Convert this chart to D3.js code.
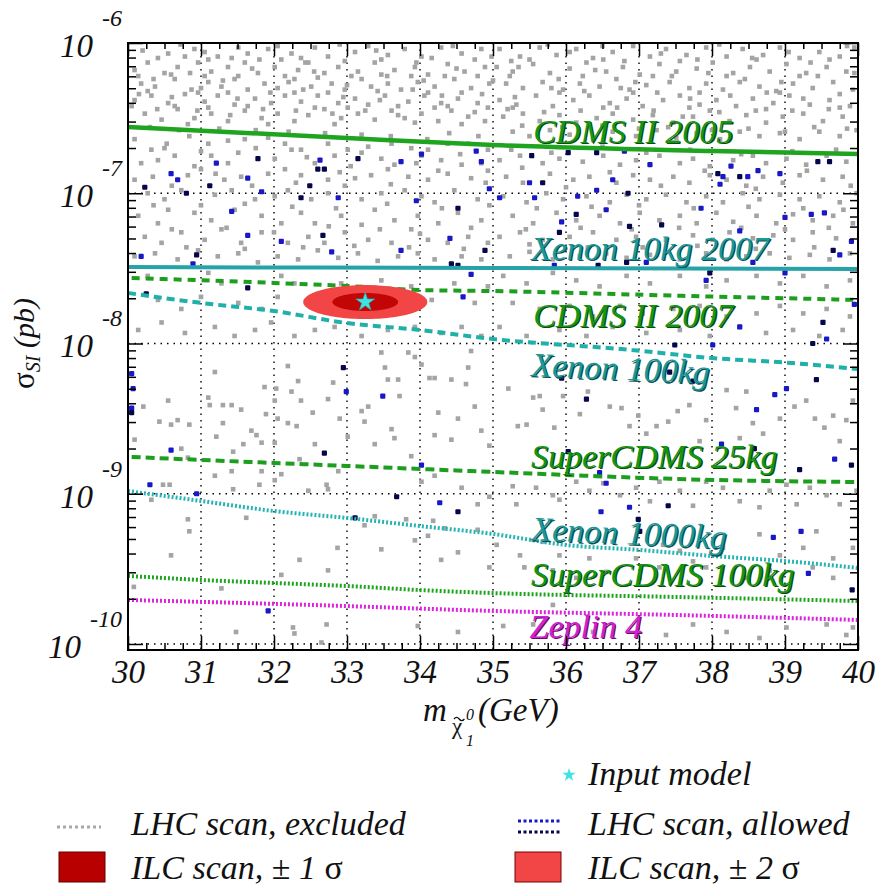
<!DOCTYPE html>
<html>
<head>
<meta charset="utf-8">
<script src="https://cdn.jsdelivr.net/npm/d3@7/dist/d3.min.js"></script>
<style>
html,body{margin:0;padding:0;background:#fff;}
svg{display:block;}
text{font-family:"Liberation Serif","Times New Roman",Times,serif;}
</style>
</head>
<body>
<svg id="chart" width="879" height="885"></svg>
<script>
// ---------------- DATA ----------------
const xTickValues = [30,31,32,33,34,35,36,37,38,39,40];
const yTickExponents = [-6,-7,-8,-9,-10];

// limit curves: neutralino mass (GeV) and log10(sigma_SI / pb)
const cdms2005Mass = [30,33,35,38,40];
const cdms2005Log  = [-6.559,-6.632,-6.679,-6.719,-6.739];
const xenon10Mass  = [30,35,40];
const xenon10Log   = [-7.491,-7.498,-7.504];
const cdms2007Mass = [30.05,32,33,34,35,37.7,40];
const cdms2007Log  = [-7.564,-7.597,-7.617,-7.644,-7.651,-7.684,-7.710];
const xenon100Mass = [30,31,32,33,34,35,36.9,38,39.1,40];
const xenon100Log  = [-7.664,-7.730,-7.784,-7.864,-7.910,-7.970,-8.043,-8.097,-8.130,-8.170];
const scdms25Mass  = [30.05,31,32,33,34,35,38,40];
const scdms25Log   = [-8.755,-8.775,-8.795,-8.815,-8.835,-8.855,-8.908,-8.922];
const xenon1000Mass= [30,31,32,33,34,35,36,37,38,39,40];
const xenon1000Log = [-8.982,-9.048,-9.115,-9.161,-9.215,-9.268,-9.341,-9.374,-9.414,-9.448,-9.494];
const scdms100Mass = [30,31,32,33,34,35,37.5,40];
const scdms100Log  = [-9.547,-9.574,-9.594,-9.614,-9.641,-9.661,-9.687,-9.714];
const zeplinMass   = [30,32.5,35,37.5,40];
const zeplinLog    = [-9.707,-9.740,-9.780,-9.807,-9.840];

// ILC fit: centre and half-widths (mass GeV, log10 sigma)
const inputModel = [33.25,-7.724];
const ilc2Sigma  = [0.85,0.113];
const ilc1Sigma  = [0.45,0.060];

// LHC scan points excluded (grey): [mass, log10 sigma]
const lhcExcluded = [
[30.55,-6.07],[30.91,-6.04],[31.23,-6.09],[31.51,-6.03],[31.64,-6.07],[31.92,-6.04],[32.24,-6.07],[32.56,-6.03],[32.74,-6.09],[33.11,-6.06],[33.29,-6.02],[33.56,-6.08],[33.79,-6.04],[34.02,-6.09],[34.29,-6.03],[34.57,-6.07],[34.84,-6.04],
[30.09,-6.18],[30.27,-6.13],[30.50,-6.20],[30.68,-6.16],[30.96,-6.13],[31.14,-6.19],[31.37,-6.16],[31.60,-6.13],[31.78,-6.20],[32.01,-6.16],[32.33,-6.18],[32.47,-6.13],[32.69,-6.20],[32.88,-6.16],[33.15,-6.19],[33.38,-6.13],[33.65,-6.18],[33.93,-6.16],[34.11,-6.21],[34.38,-6.14],[34.61,-6.19],[34.89,-6.16],
[30.18,-6.27],[30.37,-6.29],[30.64,-6.24],[30.87,-6.31],[31.10,-6.26],[31.28,-6.29],[31.46,-6.24],[31.64,-6.31],[31.87,-6.27],[32.05,-6.30],[32.28,-6.24],[32.51,-6.29],[32.79,-6.27],[32.97,-6.31],[33.20,-6.24],[33.33,-6.29],[33.56,-6.27],[33.74,-6.31],[33.97,-6.26],[34.20,-6.29],[34.47,-6.24],[34.70,-6.30],[34.95,-6.27],
[30.09,-6.38],[30.32,-6.35],[30.55,-6.40],[30.78,-6.34],[31.05,-6.39],[31.23,-6.35],[31.46,-6.41],[31.74,-6.37],[31.96,-6.40],[32.15,-6.35],[32.37,-6.39],[32.60,-6.35],[32.88,-6.40],[33.11,-6.37],[33.29,-6.41],[33.52,-6.35],[33.84,-6.39],[34.06,-6.35],[34.29,-6.40],[34.52,-6.37],[34.79,-6.40],
[30.23,-6.47],[30.46,-6.51],[30.68,-6.44],[30.91,-6.50],[31.14,-6.47],[31.37,-6.52],[31.60,-6.45],[31.83,-6.50],[32.05,-6.47],[32.28,-6.52],[32.47,-6.48],[32.69,-6.44],[32.92,-6.50],[33.15,-6.47],[33.38,-6.51],[33.61,-6.45],[33.79,-6.50],[34.02,-6.47],[34.25,-6.52],[34.43,-6.45],[34.66,-6.49],[34.89,-6.52],
[30.41,-6.10],[30.78,-6.09],[31.10,-6.11],[31.42,-6.10],[32.10,-6.11],[32.37,-6.10],[32.97,-6.12],[33.47,-6.11],[34.16,-6.10],[34.75,-6.11],[34.98,-6.09],
[30.14,-6.22],[30.59,-6.21],[31.05,-6.22],[31.51,-6.22],[32.15,-6.22],[32.60,-6.23],[33.06,-6.22],[33.47,-6.21],[33.88,-6.22],[34.34,-6.22],[34.79,-6.22],
[30.27,-6.32],[30.96,-6.33],[31.37,-6.33],[32.28,-6.33],[32.74,-6.33],[33.42,-6.32],[34.11,-6.33],[34.57,-6.33],
[30.05,-6.42],[30.64,-6.42],[31.10,-6.43],[31.64,-6.42],[32.56,-6.43],[33.01,-6.43],[33.70,-6.42],[34.38,-6.42],[34.93,-6.43],
[30.82,-6.54],[31.92,-6.54],[32.83,-6.54],[33.93,-6.53],[34.57,-6.54],
[35.09,-6.04],[35.37,-6.09],[35.64,-6.03],[35.87,-6.08],[36.14,-6.04],[36.37,-6.10],[36.64,-6.06],[36.92,-6.02],[37.15,-6.09],[37.37,-6.04],[37.65,-6.08],[37.92,-6.03],[38.20,-6.09],[38.42,-6.04],[38.70,-6.08],[38.93,-6.03],[39.20,-6.10],[39.47,-6.06],[39.75,-6.09],[39.95,-6.03],
[35.05,-6.16],[35.27,-6.19],[35.55,-6.14],[35.78,-6.20],[36.05,-6.17],[36.28,-6.13],[36.55,-6.19],[36.78,-6.16],[37.01,-6.21],[37.28,-6.14],[37.51,-6.19],[37.79,-6.17],[38.01,-6.13],[38.29,-6.20],[38.52,-6.16],[38.79,-6.19],[39.02,-6.14],[39.29,-6.20],[39.57,-6.16],[39.84,-6.19],
[35.18,-6.27],[35.41,-6.30],[35.68,-6.26],[35.96,-6.31],[36.19,-6.27],[36.46,-6.29],[36.69,-6.24],[36.87,-6.31],[37.10,-6.28],[37.42,-6.26],[37.69,-6.30],[37.92,-6.27],[38.15,-6.31],[38.38,-6.26],[38.65,-6.29],[38.88,-6.32],[39.11,-6.27],[39.38,-6.30],[39.66,-6.26],[39.93,-6.31],
[35.09,-6.38],[35.32,-6.41],[35.59,-6.35],[35.82,-6.42],[36.10,-6.38],[36.32,-6.35],[36.60,-6.40],[36.83,-6.37],[37.05,-6.42],[37.33,-6.38],[37.56,-6.35],[37.83,-6.41],[38.06,-6.38],[38.33,-6.42],[38.56,-6.37],[38.84,-6.40],[39.06,-6.35],[39.34,-6.41],[39.61,-6.38],[39.89,-6.42],
[35.14,-6.49],[35.41,-6.47],[35.64,-6.52],[35.91,-6.48],[36.14,-6.53],[36.42,-6.50],[36.64,-6.47],[36.92,-6.51],[37.19,-6.48],[37.47,-6.53],[37.74,-6.49],[37.97,-6.45],[38.24,-6.52],[38.47,-6.48],[38.74,-6.53],[38.97,-6.49],[39.25,-6.47],[39.52,-6.52],[39.79,-6.49],
[35.27,-6.59],[35.50,-6.62],[35.78,-6.58],[36.05,-6.61],[36.37,-6.64],[36.64,-6.59],[36.96,-6.62],[37.24,-6.58],[37.51,-6.63],[37.79,-6.60],[38.11,-6.64],[38.38,-6.59],[38.65,-6.62],[38.93,-6.60],[39.20,-6.64],[39.47,-6.59],[39.75,-6.62],[39.98,-6.58],
[35.50,-6.11],[36.51,-6.11],[37.56,-6.12],[38.61,-6.11],[39.61,-6.11],[35.23,-6.22],[36.23,-6.22],[37.19,-6.22],[38.20,-6.22],[39.20,-6.22],[35.91,-6.33],[36.92,-6.33],[37.83,-6.33],[38.93,-6.33],[35.27,-6.43],[36.51,-6.43],[37.69,-6.43],[38.74,-6.44],[39.75,-6.43],
[30.20,-6.05],[30.72,-6.01],[31.05,-6.06],[31.80,-6.11],[32.05,-6.02],[32.43,-6.13],[32.90,-6.01],[33.40,-6.05],[33.95,-6.13],[34.45,-6.02],[35.25,-6.12],[35.75,-6.01],[36.05,-6.06],[36.50,-6.02],[36.80,-6.12],[37.30,-6.07],[37.80,-6.11],[38.10,-6.01],[38.55,-6.10],[39.05,-6.06],[39.35,-6.13],[39.85,-6.02],
[30.35,-6.24],[30.85,-6.20],[31.30,-6.25],[31.70,-6.17],[32.20,-6.26],[32.55,-6.19],[33.00,-6.28],[33.55,-6.22],[34.05,-6.25],[34.50,-6.17],[35.00,-6.25],[35.35,-6.16],[35.90,-6.24],[36.40,-6.18],[36.95,-6.26],[37.45,-6.22],[37.95,-6.20],[38.45,-6.24],[38.95,-6.26],[39.45,-6.22],[39.95,-6.20],
[30.15,-6.34],[30.60,-6.36],[31.00,-6.30],[31.50,-6.37],[31.95,-6.33],[32.40,-6.31],[32.95,-6.36],[33.45,-6.38],[33.90,-6.31],[34.30,-6.35],[34.85,-6.34],[35.30,-6.36],[35.80,-6.30],[36.25,-6.32],[36.75,-6.30],[37.25,-6.33],[37.70,-6.37],[38.25,-6.35],[38.75,-6.33],[39.25,-6.37],[39.75,-6.34],
[30.40,-6.44],[30.95,-6.45],[31.40,-6.48],[31.85,-6.44],[32.30,-6.45],[32.80,-6.47],[33.25,-6.45],[33.70,-6.48],[34.20,-6.43],[34.75,-6.46],[35.20,-6.44],[35.70,-6.46],[36.20,-6.45],[36.70,-6.43],[37.20,-6.45],[37.60,-6.49],[38.10,-6.46],[38.60,-6.45],[39.10,-6.45],[39.60,-6.44],
[30.30,-6.56],[30.70,-6.58],[31.25,-6.57],[31.75,-6.58],[32.20,-6.59],[32.70,-6.60],[33.20,-6.61],[33.60,-6.62],[34.10,-6.64],[34.40,-6.60],[34.80,-6.62],[35.40,-6.55],[35.95,-6.56],[36.50,-6.55],[37.00,-6.57],[37.40,-6.56],[38.00,-6.58],[38.50,-6.57],[39.00,-6.59],[39.40,-6.56],[39.85,-6.57],
[30.09,-6.64],[30.32,-6.71],[30.53,-6.67],[30.84,-6.62],[31.10,-6.67],[31.37,-6.65],[31.60,-6.64],[31.92,-6.63],[32.15,-6.67],[32.37,-6.71],[32.74,-6.67],[33.01,-6.71],[33.29,-6.69],[33.61,-6.67],[33.88,-6.70],[34.11,-6.71],[34.38,-6.67],[34.66,-6.67],[34.93,-6.71],
[30.18,-6.80],[30.41,-6.78],[30.64,-6.75],[30.91,-6.82],[31.14,-6.75],[31.37,-6.80],[31.51,-6.73],[32.01,-6.77],[32.24,-6.71],[32.56,-6.80],[32.83,-6.75],[33.20,-6.73],[33.47,-6.77],[33.65,-6.81],[34.02,-6.75],[34.29,-6.78],[34.57,-6.81],[34.84,-6.80],
[30.09,-6.91],[30.34,-6.89],[30.82,-6.88],[31.00,-6.84],[31.32,-6.91],[31.55,-6.89],[31.92,-6.87],[32.15,-6.84],[32.37,-6.88],[32.74,-6.91],[33.11,-6.90],[33.33,-6.88],[33.56,-6.84],[33.84,-6.89],[34.11,-6.91],[34.38,-6.87],[34.70,-6.90],[34.93,-6.85],
[30.27,-7.00],[30.50,-7.04],[30.73,-6.98],[31.19,-7.01],[31.42,-6.98],[31.74,-7.04],[32.01,-7.02],[32.19,-6.98],[32.51,-7.04],[32.74,-7.00],[32.97,-6.95],[33.20,-7.04],[33.47,-7.00],[33.79,-6.98],[34.02,-7.02],[34.20,-7.06],[34.47,-6.98],[34.79,-7.04],
[30.14,-7.15],[30.41,-7.20],[30.55,-7.11],[30.91,-7.13],[31.14,-7.18],[31.46,-7.11],[31.83,-7.15],[32.10,-7.20],[32.37,-7.13],[32.56,-7.20],[32.92,-7.15],[33.20,-7.21],[33.38,-7.11],[33.65,-7.18],[33.97,-7.15],[34.25,-7.20],[34.52,-7.13],[34.84,-7.18],
[30.23,-7.29],[30.46,-7.33],[30.73,-7.26],[31.05,-7.31],[31.28,-7.24],[31.55,-7.33],[31.83,-7.26],[32.19,-7.33],[32.47,-7.29],[32.69,-7.33],[32.97,-7.26],[33.29,-7.31],[33.61,-7.33],[33.88,-7.24],[34.11,-7.31],[34.38,-7.33],[34.66,-7.29],[34.93,-7.33],
[30.09,-7.42],[30.37,-7.40],[30.68,-7.44],[30.96,-7.38],[31.23,-7.42],[31.51,-7.40],[31.78,-7.46],[32.05,-7.42],[32.33,-7.44],[32.60,-7.38],[32.88,-7.43],[33.15,-7.40],[33.42,-7.45],[33.70,-7.42],[33.97,-7.40],[34.20,-7.44],[34.57,-7.42],[34.84,-7.44],
[30.50,-6.70],[31.00,-6.72],[31.75,-6.70],[32.45,-6.76],[33.05,-6.82],[33.95,-6.80],[34.55,-6.74],[35.25,-6.71],[35.80,-6.73],[36.50,-6.69],[37.10,-6.73],[37.70,-6.71],[38.40,-6.74],[39.10,-6.72],[39.70,-6.71],
[30.60,-6.95],[31.20,-6.87],[31.70,-6.95],[32.30,-6.93],[32.90,-6.86],[33.60,-6.94],[34.25,-6.85],[34.90,-6.93],[35.40,-6.83],[36.00,-6.96],[36.60,-6.86],[37.30,-6.95],[37.90,-6.85],[38.60,-6.97],[39.30,-6.85],[39.90,-6.95],
[30.35,-7.08],[31.00,-7.08],[31.60,-7.07],[32.25,-7.09],[32.85,-7.10],[33.55,-7.07],[34.30,-7.10],[34.95,-7.08],[35.60,-7.10],[36.35,-7.09],[37.00,-7.08],[37.75,-7.10],[38.50,-7.09],[39.25,-7.10],[39.80,-7.11],
[30.60,-7.24],[31.35,-7.23],[32.00,-7.26],[32.75,-7.22],[33.45,-7.24],[34.00,-7.27],[34.70,-7.23],[35.45,-7.24],[36.20,-7.23],[36.90,-7.24],[37.55,-7.23],[38.40,-7.23],[39.00,-7.24],[39.60,-7.23],
[30.80,-7.36],[31.60,-7.37],[32.40,-7.36],[33.10,-7.35],[33.85,-7.36],[34.60,-7.37],[35.50,-7.34],[36.30,-7.36],[37.05,-7.36],[37.80,-7.35],[38.60,-7.37],[39.40,-7.36],
[30.41,-7.71],[30.73,-7.77],[31.00,-7.69],[31.28,-7.60],[31.51,-7.73],[31.83,-7.77],[32.05,-7.69],[32.28,-7.60],[32.56,-7.75],[32.83,-7.69],[33.11,-7.64],[33.47,-7.58],[33.88,-7.62],[34.16,-7.71],[34.47,-7.60],[34.75,-7.73],[34.93,-7.62],
[30.14,-7.91],[30.46,-7.86],[30.78,-7.93],[31.19,-7.89],[31.46,-7.95],[31.74,-7.91],[31.96,-7.86],[32.28,-7.95],[32.56,-7.91],[32.83,-7.89],[33.20,-7.95],[33.56,-7.91],[33.93,-7.89],[34.29,-7.93],[34.57,-7.89],[34.84,-7.95],
[30.27,-7.55],[31.10,-7.53],[32.10,-7.55],[32.92,-7.60],
[35.09,-6.78],[35.37,-6.75],[35.68,-6.80],[35.91,-6.77],[36.23,-6.79],[36.51,-6.75],[36.74,-6.81],[36.96,-6.78],[37.28,-6.75],[37.56,-6.80],[37.74,-6.77],[37.97,-6.82],[38.29,-6.78],[38.56,-6.75],[38.74,-6.80],[39.02,-6.77],[39.29,-6.81],[39.57,-6.75],[39.84,-6.79],
[35.18,-6.89],[35.41,-6.93],[35.78,-6.87],[36.10,-6.91],[36.32,-6.89],[36.69,-6.93],[36.92,-6.88],[37.15,-6.91],[37.47,-6.89],[37.69,-6.93],[37.97,-6.88],[38.20,-6.91],[38.47,-6.95],[38.70,-6.89],[38.97,-6.93],[39.20,-6.88],[39.52,-6.91],[39.79,-6.89],
[35.14,-7.02],[35.46,-7.06],[35.73,-7.00],[35.96,-7.04],[36.28,-7.02],[36.60,-7.06],[36.83,-7.01],[37.10,-7.04],[37.37,-7.01],[37.65,-7.06],[37.92,-7.02],[38.15,-7.06],[38.42,-7.00],[38.65,-7.04],[38.93,-7.01],[39.20,-7.04],[39.47,-7.02],[39.75,-7.06],[39.98,-7.00],
[35.27,-7.15],[35.55,-7.20],[35.87,-7.13],[36.14,-7.18],[36.46,-7.15],[36.74,-7.20],[37.01,-7.13],[37.28,-7.18],[37.56,-7.15],[37.79,-7.20],[38.06,-7.13],[38.29,-7.19],[38.61,-7.15],[38.88,-7.20],[39.11,-7.14],[39.38,-7.18],[39.66,-7.15],[39.93,-7.20],
[35.09,-7.29],[35.37,-7.26],[35.68,-7.31],[36.05,-7.29],[36.37,-7.26],[36.69,-7.31],[36.96,-7.29],[37.37,-7.31],[37.74,-7.28],[38.01,-7.31],[38.24,-7.26],[38.56,-7.30],[38.84,-7.28],[39.11,-7.31],[39.38,-7.26],[39.70,-7.30],
[35.23,-7.42],[35.50,-7.39],[35.82,-7.44],[36.19,-7.42],[36.55,-7.40],[36.83,-7.43],[37.15,-7.41],[37.56,-7.44],[37.92,-7.40],[38.20,-7.44],[38.47,-7.42],[38.79,-7.40],[39.06,-7.43],[39.34,-7.41],[39.61,-7.44],[39.89,-7.40],
[35.14,-7.55],[35.46,-7.60],[35.82,-7.53],[36.14,-7.58],[36.46,-7.62],[36.83,-7.55],[37.15,-7.60],[37.56,-7.55],[37.92,-7.62],[38.20,-7.58],[38.61,-7.55],[38.93,-7.60],[39.25,-7.55],[39.57,-7.62],[39.89,-7.58],
[35.27,-7.73],[35.64,-7.77],[36.05,-7.75],[36.37,-7.82],[36.74,-7.75],[37.05,-7.80],[37.47,-7.77],[37.83,-7.75],[38.20,-7.82],[38.61,-7.80],[38.93,-7.75],[39.25,-7.80],[39.57,-7.77],[39.89,-7.82],
[35.09,-7.89],[35.46,-7.95],[35.91,-7.91],[36.28,-7.95],[36.64,-7.89],[37.10,-7.93],[37.56,-7.91],[37.97,-7.95],[38.38,-7.89],[38.74,-7.93],[39.11,-7.91],[39.47,-7.95],[39.79,-7.91],
[30.09,-8.64],[30.21,-8.42],[30.55,-8.38],[30.43,-8.52],[30.59,-8.54],[30.68,-8.51],[30.84,-8.54],[31.10,-8.36],[31.21,-8.62],[31.30,-8.53],[31.42,-8.41],[31.55,-8.44],[31.58,-8.67],[31.69,-8.58],[31.76,-8.61],[31.83,-8.66],[31.89,-8.47],[32.01,-8.38],[32.03,-8.30],[32.01,-8.66],[32.05,-8.50],[32.19,-8.53],[32.31,-8.55],[32.24,-8.32],[32.33,-8.25],[32.37,-8.38],[32.53,-8.46],[32.56,-8.67],[32.74,-8.37],[32.81,-8.26],[32.90,-8.50],[33.01,-8.62],[33.20,-8.45],[33.24,-8.52],[33.29,-8.42],[33.38,-8.67],[33.52,-8.16],[33.56,-8.24],[33.61,-8.57],[33.65,-8.63],[33.70,-8.24],[33.72,-8.35],[33.93,-8.09],[34.02,-8.14],[34.13,-8.23],[34.20,-8.23],[34.25,-8.46],[34.20,-8.61],[34.43,-8.24],[34.43,-8.64],[34.52,-8.50],[34.63,-8.27],[34.66,-8.16],[34.75,-8.42],[34.84,-8.58],[34.95,-8.68],[34.70,-8.05],[33.84,-8.06],[33.47,-8.06],[32.19,-8.15],[31.87,-8.29],[31.19,-8.19],[31.12,-8.41],[31.30,-8.41],
[30.82,-8.76],[30.73,-8.70],[31.42,-8.85],[31.44,-8.97],[31.80,-8.94],[32.01,-8.91],[32.47,-8.98],[32.72,-8.94],[32.74,-8.97],[32.88,-8.85],[33.88,-8.75],[34.02,-8.92],[34.20,-8.88],[34.57,-8.96],[34.79,-9.07],[34.95,-9.02],[30.82,-9.17],[30.84,-9.25],[30.59,-9.41],[30.48,-8.94],[30.57,-8.94],[30.32,-9.04],[31.62,-9.16],[31.19,-8.88],[31.44,-8.72],[31.83,-8.85],[32.10,-8.87],[32.35,-8.77],[32.10,-9.54],[32.35,-9.44],[32.74,-9.51],[32.87,-9.36],[33.47,-9.37],[33.38,-9.15],[33.24,-9.21],[34.11,-9.28],[34.29,-9.44],[34.52,-9.39],[34.95,-9.49],[34.79,-9.24],[34.34,-9.23],[34.18,-9.18],[30.08,-9.62],[31.28,-9.63],[31.48,-9.92],[32.26,-9.89],[32.28,-9.93],[32.72,-9.87],[32.65,-9.99],[33.97,-9.88],[34.52,-9.92],[33.93,-9.31],[33.81,-9.17],
[35.21,-8.30],[35.34,-8.55],[35.46,-8.54],[35.55,-8.36],[35.64,-8.35],[35.68,-8.44],[35.84,-8.56],[35.96,-8.35],[36.19,-8.47],[36.30,-8.32],[36.60,-8.42],[36.76,-8.43],[36.87,-8.55],[36.99,-8.48],[37.10,-8.60],[37.24,-8.55],[37.40,-8.52],[37.53,-8.45],[37.69,-8.41],[37.83,-8.65],[37.92,-8.51],[38.20,-8.31],[38.33,-8.43],[38.38,-8.63],[38.47,-8.32],[38.56,-8.53],[38.70,-8.60],[38.93,-8.50],[39.13,-8.42],[39.29,-8.38],[39.41,-8.50],[39.54,-8.56],[39.66,-8.48],[39.75,-8.65],[39.84,-8.51],[39.93,-8.38],
[35.27,-8.95],[35.32,-9.07],[35.59,-8.96],[35.82,-9.01],[35.91,-9.04],[36.14,-8.92],[36.32,-8.98],[36.51,-8.93],[36.74,-9.01],[36.96,-8.96],[37.15,-9.05],[37.28,-8.92],[37.56,-8.98],[37.74,-9.08],[37.92,-8.92],[38.15,-8.96],[38.38,-9.05],[38.65,-9.09],[38.79,-8.98],[39.02,-8.94],[39.16,-9.07],[39.34,-8.96],[39.57,-9.01],[39.75,-9.07],[39.98,-8.98],
[35.05,-9.34],[35.37,-9.41],[35.68,-9.32],[35.91,-9.41],[36.32,-9.43],[36.64,-9.32],[36.96,-9.43],[37.33,-9.34],[37.56,-9.38],[37.74,-9.45],[38.15,-9.36],[38.65,-9.27],[38.93,-9.41],[39.25,-9.36],[39.43,-9.25],[39.66,-9.43],[39.93,-9.36],
[35.43,-9.49],[35.82,-9.51],[36.14,-9.56],[36.55,-9.52],[37.01,-9.56],[37.28,-9.49],[37.92,-9.49],[38.47,-9.56],[38.79,-9.51],[39.38,-9.49],[39.66,-9.56],
[35.14,-9.88],[35.55,-9.87],[35.82,-9.74],[36.37,-9.92],[37.37,-9.94],[37.74,-9.87],[38.20,-9.92],[38.65,-9.96],[39.02,-9.89],[39.57,-9.87],[39.84,-9.94],[39.93,-9.89]
];

// LHC scan points allowed (bright blue and dark blue markers)
const lhcAllowedBlue = [
[32.63,-6.78],[33.74,-6.79],[34.02,-6.74],[34.77,-6.72],[34.84,-6.79],[30.59,-6.87],[30.68,-6.91],[31.64,-6.90],[31.83,-6.99],[32.88,-7.03],[31.21,-6.80],[31.42,-7.12],[31.64,-7.28],[32.10,-7.32],[32.79,-7.39],[33.74,-7.38],[33.95,-7.05],[34.41,-7.30],[34.95,-6.97],[30.18,-7.42],[30.89,-7.47],[34.70,-7.54],[34.59,-7.69],
[36.80,-6.72],[37.15,-6.81],[38.26,-6.82],[38.15,-6.89],[38.49,-6.89],[38.63,-6.85],[38.93,-6.87],[35.09,-7.03],[35.50,-6.93],[35.57,-7.03],[36.16,-7.02],[36.42,-6.98],[36.64,-6.91],[36.55,-7.11],[35.94,-7.19],[37.85,-7.10],[38.11,-6.94],[38.38,-7.25],[39.00,-7.16],[39.36,-7.14],[39.54,-7.13],[39.91,-7.32],[39.75,-7.41],[35.84,-7.48],[37.10,-7.46],[37.92,-7.58],[38.56,-7.46],[39.00,-7.53],[38.01,-8.01],[39.57,-7.97],[39.95,-7.74],[38.38,-7.89],
[30.05,-8.20],[30.07,-8.30],[30.05,-8.43],[30.59,-8.71],[30.94,-9.00],[30.30,-8.94],[32.99,-8.32],[33.49,-8.35],[34.02,-8.81],[34.27,-9.06],[31.92,-9.78],
[38.61,-8.44],[38.86,-8.34],[39.02,-8.30],[39.68,-8.77],[38.13,-8.67],[36.46,-8.86],[36.55,-8.93],[36.87,-9.09],[36.48,-9.12],[38.84,-9.29],[39.22,-9.25],[39.32,-9.53]
];
const lhcAllowedNavy = [
[31.78,-6.77],[33.15,-6.77],[30.23,-6.96],[30.80,-7.00],[31.12,-6.95],[32.49,-6.95],[32.37,-7.03],[32.60,-6.84],[32.69,-6.84],[32.67,-7.28],[34.52,-7.10],[34.89,-7.38],[30.94,-7.41],[34.43,-7.47],[34.52,-7.48],[31.64,-7.63],[30.25,-7.67],
[35.53,-6.75],[36.03,-6.73],[36.42,-6.73],[38.08,-6.87],[38.38,-6.89],[39.45,-6.79],[39.61,-6.79],[35.68,-6.93],[36.85,-7.00],[36.14,-7.14],[36.87,-7.22],[37.31,-7.21],[39.66,-7.38],[35.91,-7.26],[36.83,-7.46],[37.97,-7.53],[36.44,-7.48],[37.49,-8.01],[39.52,-7.86],[39.38,-8.00],
[30.05,-8.46],[32.95,-8.16],[32.69,-8.73],[33.11,-9.16],[33.68,-9.02],[34.52,-9.12],
[35.94,-8.23],[36.28,-8.37],[37.42,-8.19],[37.74,-8.25],[39.43,-8.24],[39.91,-8.81],[39.20,-8.84],[38.58,-8.70],[36.03,-8.72],[37.40,-9.08],[36.99,-9.17],[37.01,-9.25],[39.92,-9.64]
];

// ---------------- CHART ----------------
const P = e => Math.pow(10, e);
const svg = d3.select("#chart");
const L = 128, R = 858, T = 43, B = 650;
const x = d3.scaleLinear().domain([30, 40]).range([L, R]);
const y = d3.scaleLog().domain([P(-10.04), P(-6)]).range([B, T]);

const limits = [
  {m:cdms2005Mass,  l:cdms2005Log,  color:"#1fa41f", w:4.5, dash:null},
  {m:xenon10Mass,   l:xenon10Log,   color:"#25a3a8", w:4,   dash:null},
  {m:cdms2007Mass,  l:cdms2007Log,  color:"#1e9e1e", w:4,   dash:"8,6"},
  {m:xenon100Mass,  l:xenon100Log,  color:"#1fb0aa", w:4,   dash:"8,5"},
  {m:scdms25Mass,   l:scdms25Log,   color:"#1e9e1e", w:4,   dash:"9,5"},
  {m:xenon1000Mass, l:xenon1000Log, color:"#25b4b4", w:4,   dash:"2,2"},
  {m:scdms100Mass,  l:scdms100Log,  color:"#1ea51e", w:4,   dash:"2,2"},
  {m:zeplinMass,    l:zeplinLog,    color:"#dd22dd", w:4,   dash:"2,2"}
];

// grid
const gGrid = svg.append("g");
xTickValues.slice(1, -1).forEach(v => {
  gGrid.append("line").attr("x1", x(v)).attr("x2", x(v)).attr("y1", T).attr("y2", B)
    .attr("stroke", "#000").attr("stroke-width", 1.4).attr("stroke-dasharray", "1.5,5");
});
yTickExponents.slice(1).forEach(e => {
  gGrid.append("line").attr("x1", L).attr("x2", R).attr("y1", y(P(e))).attr("y2", y(P(e)))
    .attr("stroke", "#000").attr("stroke-width", 1.4).attr("stroke-dasharray", "1.5,5");
});

// scatter points
const gPts = svg.append("g");
gPts.selectAll("rect.ex").data(lhcExcluded).join("rect").attr("class", "ex")
  .attr("x", d => x(d[0]) - 2.3).attr("y", d => y(P(d[1])) - 2.3)
  .attr("width", 4.6).attr("height", 4.6).attr("fill", "#a4a4a4");
gPts.selectAll("rect.bl").data(lhcAllowedBlue).join("rect").attr("class", "bl")
  .attr("x", d => x(d[0]) - 2.6).attr("y", d => y(P(d[1])) - 2.6)
  .attr("width", 5.2).attr("height", 5.2).attr("rx", 1).attr("fill", "#1818c8");
gPts.selectAll("rect.nv").data(lhcAllowedNavy).join("rect").attr("class", "nv")
  .attr("x", d => x(d[0]) - 2.6).attr("y", d => y(P(d[1])) - 2.6)
  .attr("width", 5.2).attr("height", 5.2).attr("rx", 1).attr("fill", "#06064a");

// limit curves
const lineGen = d3.line().x(d => x(d[0])).y(d => y(P(d[1]))).curve(d3.curveMonotoneX);
const gLines = svg.append("g");
limits.forEach(c => {
  gLines.append("path").datum(c.m.map((m, i) => [m, c.l[i]]))
    .attr("d", lineGen).attr("fill", "none").attr("stroke", c.color)
    .attr("stroke-width", c.w).attr("stroke-dasharray", c.dash);
});

// ILC ellipses
const ell = (c, r) => d3.range(0, 2 * Math.PI, Math.PI / 60).map(t => [c[0] + r[0] * Math.cos(t), c[1] + r[1] * Math.sin(t)]);
const closed = d3.line().x(d => x(d[0])).y(d => y(P(d[1]))).curve(d3.curveLinearClosed);
svg.append("path").attr("d", closed(ell(inputModel, ilc2Sigma))).attr("fill", "#f24545");
svg.append("path").attr("d", closed(ell(inputModel, ilc1Sigma))).attr("fill", "#c20606");
svg.append("path").attr("d", d3.symbol(d3.symbolStar, 110)())
  .attr("transform", `translate(${x(inputModel[0])},${y(P(inputModel[1]))})`)
  .attr("fill", "#3fe3e3").attr("stroke", "#22aaaa").attr("stroke-width", 0.6);

// curve labels (layout anchors in data coords)
const labelLayout = [
  {t:"CDMS II 2005",    at:[35.55,-6.666], c:"#159515", d:"#0a4d0a", r:0},
  {t:"Xenon 10kg 2007", at:[35.52,-7.445], c:"#1a9898", d:"#0b4f52", r:0},
  {t:"CDMS II 2007",    at:[35.55,-7.890], c:"#159515", d:"#0a4d0a", r:0},
  {t:"Xenon 100kg",     at:[35.52,-8.216], c:"#1a9898", d:"#0b4f52", r:2.5},
  {t:"SuperCDMS 25kg",  at:[35.52,-8.829], c:"#159515", d:"#0a4d0a", r:0},
  {t:"Xenon 1000kg",    at:[35.52,-9.308], c:"#1a9898", d:"#0b4f52", r:2.5},
  {t:"SuperCDMS 100kg", at:[35.52,-9.614], c:"#159515", d:"#0a4d0a", r:0},
  {t:"Zeplin 4",        at:[35.50,-9.960], c:"#cf23cf", d:"#6a0b6a", r:0}
];
const gLab = svg.append("g");
labelLayout.forEach(lb => {
  const g = gLab.append("g").attr("transform", `translate(${x(lb.at[0])},${y(P(lb.at[1]))}) rotate(${lb.r})`);
  g.append("text").attr("x", 1.3).attr("y", 1.3).attr("font-size", 34).attr("font-style", "italic")
    .attr("fill", lb.d).text(lb.t);
  g.append("text").attr("font-size", 34).attr("font-style", "italic").attr("fill", lb.c).text(lb.t);
});

// axes (ticks inward)
const xMinor = d3.range(30, 40.001, 0.25).filter(v => Math.abs(v - Math.round(v)) > 1e-6);
const yMajor = yTickExponents.map(P);
const yMinor = [];
[-10, -9, -8, -7].forEach(e => d3.range(2, 10).forEach(m => yMinor.push(m * P(e))));

function styleAxis(g) {
  g.select(".domain").remove();
  g.selectAll(".tick line").attr("stroke", "#000").attr("stroke-width", 1.5);
}
svg.append("g").attr("transform", `translate(0,${B})`)
  .call(d3.axisBottom(x).tickValues(xMinor).tickSize(-7).tickFormat("")).call(styleAxis);
svg.append("g").attr("transform", `translate(0,${B})`)
  .call(d3.axisBottom(x).tickValues(xTickValues).tickSize(-14).tickPadding(10).tickFormat(d3.format("d")))
  .call(styleAxis)
  .call(g => g.selectAll(".tick text").attr("font-size", 33).attr("font-style", "italic")
    .attr("font-family", "Liberation Serif").attr("fill", "#111"));
svg.append("g").attr("transform", `translate(0,${T})`)
  .call(d3.axisTop(x).tickValues(xMinor).tickSize(-6).tickFormat("")).call(styleAxis);
svg.append("g").attr("transform", `translate(0,${T})`)
  .call(d3.axisTop(x).tickValues(xTickValues).tickSize(-13).tickFormat("")).call(styleAxis);
svg.append("g").attr("transform", `translate(${L},0)`)
  .call(d3.axisLeft(y).tickValues(yMinor).tickSize(-8).tickFormat("")).call(styleAxis);
svg.append("g").attr("transform", `translate(${L},0)`)
  .call(d3.axisLeft(y).tickValues(yMajor).tickSize(-15).tickFormat("")).call(styleAxis);
svg.append("g").attr("transform", `translate(${R},0)`)
  .call(d3.axisRight(y).tickValues(yMinor).tickSize(-8).tickFormat("")).call(styleAxis);
svg.append("g").attr("transform", `translate(${R},0)`)
  .call(d3.axisRight(y).tickValues(yMajor).tickSize(-15).tickFormat("")).call(styleAxis);

// frame
svg.append("rect").attr("x", L).attr("y", T).attr("width", R - L).attr("height", B - T)
  .attr("fill", "none").attr("stroke", "#000").attr("stroke-width", 2);

// y tick labels 10^e
yTickExponents.forEach(e => {
  const yy = y(P(e));
  const ex = svg.append("text").attr("x", 122).attr("y", yy - 17).attr("text-anchor", "end")
    .attr("font-size", 24).attr("font-style", "italic").attr("fill", "#111").text(String(e));
  const w = ex.node().getComputedTextLength();
  svg.append("text").attr("x", 122 - w - 9).attr("y", yy + 14).attr("text-anchor", "end")
    .attr("font-size", 33).attr("font-style", "italic").attr("fill", "#111").text("10");
});

// y axis title
const yt = svg.append("text").attr("transform", "translate(34,389) rotate(-90)").attr("fill", "#111");
yt.append("tspan").attr("font-size", 31).attr("font-style", "normal").text("σ");
yt.append("tspan").attr("font-size", 20).attr("font-style", "italic").attr("dy", 6).text("SI");
yt.append("tspan").attr("font-size", 30).attr("font-style", "italic").attr("dy", -6).text(" (pb)");

// x axis title  m_{chi~^0_1} (GeV)
const xt = svg.append("g").attr("fill", "#111").attr("font-style", "italic");
xt.append("text").attr("x", 423).attr("y", 721).attr("font-size", 33).text("m");
xt.append("text").attr("x", 452).attr("y", 734).attr("font-size", 23).attr("font-style", "normal").text("\u03C7");
xt.append("path").attr("d", "M454,719 q2.6,-3.4 5.2,0 t5.2,0").attr("fill", "none")
  .attr("stroke", "#111").attr("stroke-width", 1.3);
xt.append("text").attr("x", 466).attr("y", 720).attr("font-size", 16).text("0");
xt.append("text").attr("x", 466).attr("y", 746).attr("font-size", 16).text("1");
xt.append("text").attr("x", 478).attr("y", 721).attr("font-size", 33).text("(GeV)");

// legend
const lg = svg.append("g");
const legText = (tx, ty, parts) => {
  const t = lg.append("text").attr("x", tx).attr("y", ty).attr("font-size", 34).attr("fill", "#111");
  parts.forEach(p => t.append("tspan").attr("font-style", p[1] ? "normal" : "italic").text(p[0]));
};
lg.append("path").attr("d", d3.symbol(d3.symbolStar, 55)()).attr("transform", "translate(569,775)")
  .attr("fill", "#3fe3e3");
legText(588, 785, [["Input model"]]);
lg.append("line").attr("x1", 57).attr("x2", 101).attr("y1", 827).attr("y2", 827)
  .attr("stroke", "#a8a8a8").attr("stroke-width", 3).attr("stroke-dasharray", "3,3");
legText(131, 835, [["LHC scan, excluded"]]);
lg.append("line").attr("x1", 518).attr("x2", 560).attr("y1", 821).attr("y2", 821)
  .attr("stroke", "#1818c8").attr("stroke-width", 3).attr("stroke-dasharray", "3,2.5");
lg.append("line").attr("x1", 518).attr("x2", 560).attr("y1", 832).attr("y2", 832)
  .attr("stroke", "#06064a").attr("stroke-width", 3).attr("stroke-dasharray", "3,2.5");
legText(588, 835, [["LHC scan, allowed"]]);
lg.append("rect").attr("x", 59).attr("y", 852).attr("width", 46).attr("height", 30)
  .attr("fill", "#b80000").attr("stroke", "#600").attr("stroke-width", 1);
legText(131, 879, [["ILC scan, "], ["± ", true], ["1 "], ["σ", true]]);
lg.append("rect").attr("x", 515).attr("y", 852).attr("width", 46).attr("height", 30)
  .attr("fill", "#f24545").attr("stroke", "#700").attr("stroke-width", 1);
legText(588, 879, [["ILC scan, "], ["± ", true], ["2 "], ["σ", true]]);
</script>
</body>
</html>
